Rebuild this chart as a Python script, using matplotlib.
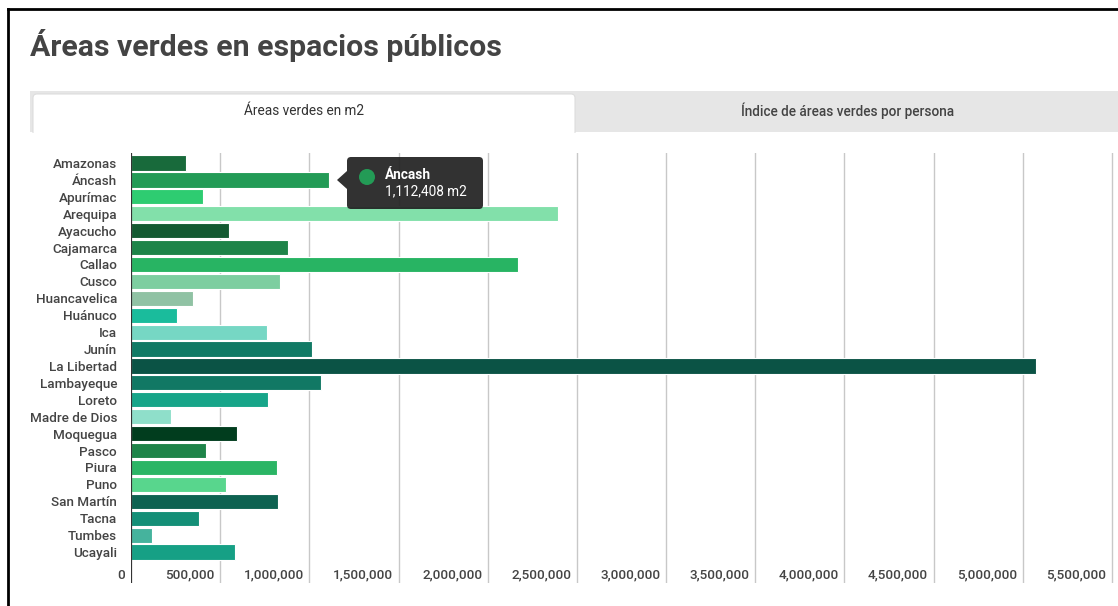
import matplotlib
matplotlib.use("Agg")
import matplotlib.pyplot as plt
from matplotlib.patches import FancyBboxPatch, Rectangle, Polygon, Circle

# Datos: áreas verdes (m2) por región
regiones = ["Amazonas", "Áncash", "Apurímac", "Arequipa", "Ayacucho", "Cajamarca",
            "Callao", "Cusco", "Huancavelica", "Huánuco", "Ica", "Junín",
            "La Libertad", "Lambayeque", "Loreto", "Madre de Dios", "Moquegua",
            "Pasco", "Piura", "Puno", "San Martín", "Tacna", "Tumbes", "Ucayali"]
areas = [308000, 1112408, 403000, 2395000, 547000, 882000,
         2170000, 838000, 345000, 256000, 760000, 1015000,
         5075000, 1066000, 770000, 222000, 597000,
         420000, 820000, 535000, 826000, 384000, 115000, 585000]
colores = ["#186a3b", "#239b56", "#2ecc71", "#82e0aa", "#145a32", "#1e8449",
           "#28b463", "#7dcea0", "#90c2a4", "#1abc9c", "#76d7c4", "#117a65",
           "#0b5345", "#117864", "#17a589", "#8fdfca", "#013d1e",
           "#1e8449", "#2bb565", "#58d68d", "#0e6251", "#148f77", "#45b39d", "#16a085"]
ticks = [0, 500000, 1000000, 1500000, 2000000, 2500000, 3000000,
         3500000, 4000000, 4500000, 5000000, 5500000]
tooltip_idx = 1

W, H = 1118, 606
plt.rcParams["font.family"] = ["Roboto", "DejaVu Sans"]
fig = plt.figure(figsize=(W / 100, H / 100), dpi=100)

# eje del gráfico en coordenadas de píxel
x0, x1, y0, y1 = 131, 1118, 153, 583
ax = fig.add_axes([x0 / W, (H - y1) / H, (x1 - x0) / W, (y1 - y0) / H])
ax.barh(range(len(regiones)), areas, height=0.9, color=colores,
        edgecolor="white", linewidth=0.8, zorder=3)
ax.set_xlim(0, 5500000 + 6 * 5607)
ax.set_ylim(24.83, -0.59)
for t in ticks[1:]:
    ax.axvline(t, color="#c8c8c8", linewidth=1, zorder=1)
ax.axvline(0, color="#333333", linewidth=1.6, zorder=4)
ax.set_xticks([])
ax.set_yticks(range(len(regiones)))
ax.set_yticklabels(regiones, fontsize=9.7, color="#444444", fontweight="medium")
ax.tick_params(axis="y", length=0, pad=10)
for s in ax.spines.values():
    s.set_visible(False)
for t in ticks:
    ax.annotate(f"{t:,}", xy=(t, 24.36), xytext=(-4, 0), textcoords="offset points",
                ha="right", va="center", fontsize=9.7, color="#444444",
                fontweight="medium")

# capa de decoración en píxeles
ov = fig.add_axes([0, 0, 1, 1], zorder=10)
ov.set_xlim(0, W)
ov.set_ylim(H, 0)
ov.axis("off")
ov.patch.set_alpha(0)

ov.plot([8, 8], [9, H], color="black", linewidth=2)
ov.plot([8, W], [9, 9], color="black", linewidth=2)

ov.text(30, 45, "Áreas verdes en espacios públicos", fontsize=21.8, fontweight="bold",
        color="#444444", va="center", ha="left")

# pestañas
ov.add_patch(Rectangle((30, 91), W - 30, 41, facecolor="#e6e6e6", edgecolor="none"))
ov.add_patch(FancyBboxPatch((33, 94), 542, 45, boxstyle="round,pad=0,rounding_size=4",
                            facecolor="white", edgecolor="#dddddd", linewidth=0.8))
ov.add_patch(Rectangle((31, 133), W - 31, 20, facecolor="white", edgecolor="none"))
ov.text(304, 111, "Áreas verdes en m2", fontsize=9.8, color="#333333",
        ha="center", va="center")
ov.text(848, 111, "Índice de áreas verdes por persona", fontsize=9.8, color="#444444",
        ha="center", va="center", fontweight="medium")

# tooltip
ov.add_patch(FancyBboxPatch((347, 157), 136, 52, boxstyle="round,pad=0,rounding_size=4",
                            facecolor="#222222", edgecolor="none", alpha=0.93))
ov.add_patch(Polygon([(337, 180), (347, 171), (347, 189)], closed=True,
                     facecolor="#222222", edgecolor="none", alpha=0.93))
ov.add_patch(Circle((367, 177), 8, facecolor=colores[tooltip_idx], edgecolor="none"))
ov.text(385, 175, regiones[tooltip_idx], fontsize=9.8, fontweight="bold",
        color="white", ha="left", va="center")
ov.text(385, 191, f"{areas[tooltip_idx]:,} m2", fontsize=9.8, color="white",
        ha="left", va="center")

fig.savefig("out.png", dpi=100)
